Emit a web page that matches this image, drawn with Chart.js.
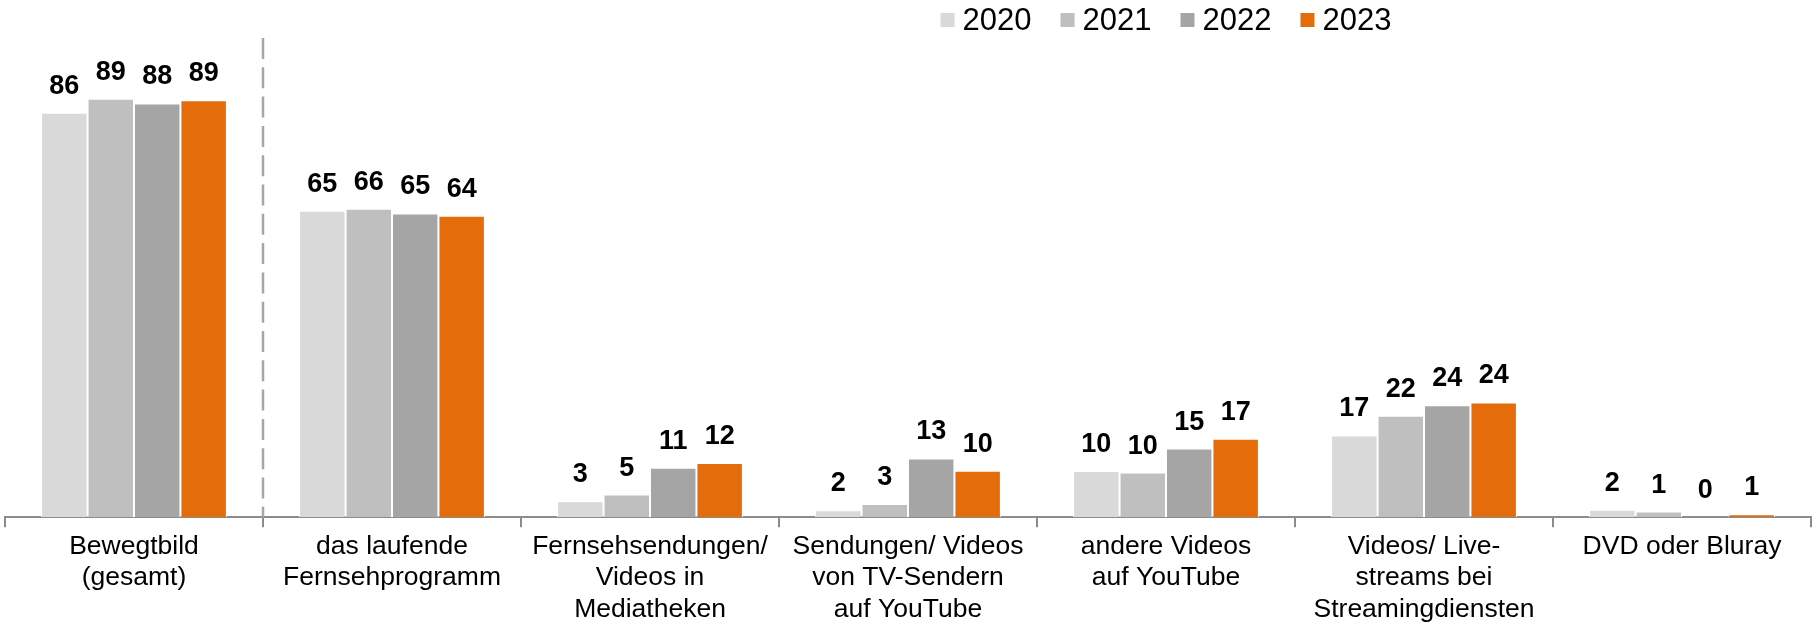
<!DOCTYPE html>
<html lang="de">
<head>
<meta charset="utf-8">
<title>Bewegtbildnutzung 2020–2023</title>
<script src="https://cdn.jsdelivr.net/npm/chart.js@4.4.1/dist/chart.umd.min.js"></script>
<style>
    html, body { margin: 0; padding: 0; background: #fff; }
    .chart-wrap { position: relative; width: 1816px; height: 624px; }
</style>
</head>
<body>
<div class="chart-wrap"><canvas id="usage-chart"></canvas></div>
<script>
// ─── data ───────────────────────────────────────────────────────────────

const categories = [
    ['Bewegtbild', '(gesamt)'],
    ['das laufende', 'Fernsehprogramm'],
    ['Fernsehsendungen/', 'Videos in', 'Mediatheken'],
    ['Sendungen/ Videos', 'von TV-Sendern', 'auf YouTube'],
    ['andere Videos', 'auf YouTube'],
    ['Videos/ Live-', 'streams bei', 'Streamingdiensten'],
    ['DVD oder Bluray'],
];

const years = ['2020', '2021', '2022', '2023'];

// the printed labels are these values rounded
const values2020 = [86.0, 65.2, 3.4, 1.5, 9.8, 17.4, 1.6];
const values2021 = [89.0, 65.6, 4.8, 2.8, 9.5, 21.6, 1.2];
const values2022 = [88.0, 64.6, 10.5, 12.5, 14.6, 23.8, 0];
const values2023 = [88.7, 64.1, 11.5, 9.9, 16.7, 24.4, 0.6];

const seriesValues = [values2020, values2021, values2022, values2023];
const yearColors = ['#d9d9d9', '#bfbfbf', '#a5a5a5', '#e46c0a'];

const FONT = '"Liberation Sans", Arial, Helvetica, sans-serif';
Chart.defaults.font.family = FONT;

// ─── plugins ────────────────────────────────────────────────────────────

// bold value above every bar
const valueLabels = {
    id: 'valueLabels',
    afterDatasetsDraw(chart, args, opts) {
        const {ctx} = chart;
        ctx.save();
        ctx.font = `bold ${opts.size}px ${FONT}`;
        ctx.fillStyle = opts.color;
        ctx.textAlign = 'center';
        ctx.textBaseline = 'alphabetic';
        chart.data.datasets.forEach((ds, i) => {
            chart.getDatasetMeta(i).data.forEach((bar, j) => {
                ctx.fillText(String(Math.round(ds.data[j])), bar.x, bar.y - opts.offset);
            });
        });
        ctx.restore();
    }
};

// dashed line between "Bewegtbild (gesamt)" and the rest
const separatorLine = {
    id: 'separatorLine',
    afterDatasetsDraw(chart, args, opts) {
        const {ctx, chartArea} = chart;
        const x = chart.scales.x;
        const px = (x.getPixelForValue(opts.after) + x.getPixelForValue(opts.after + 1)) / 2;
        ctx.save();
        ctx.strokeStyle = opts.color;
        ctx.lineWidth = opts.width;
        ctx.setLineDash(opts.dash);
        ctx.beginPath();
        ctx.moveTo(px, chartArea.top - opts.overshoot);
        ctx.lineTo(px, chartArea.bottom);
        ctx.stroke();
        ctx.restore();
    }
};

// small square + year, laid out in one row
const yearLegend = {
    id: 'yearLegend',
    afterDraw(chart, args, opts) {
        const {ctx} = chart;
        ctx.save();
        ctx.font = `${opts.size}px ${FONT}`;
        ctx.textBaseline = 'alphabetic';
        ctx.textAlign = 'left';
        const items = chart.data.datasets.map(ds => ({
            text: ds.label,
            color: ds.backgroundColor,
            w: ctx.measureText(ds.label).width,
        }));
        const total = items.reduce((s, it) => s + opts.box + opts.boxGap + it.w, 0)
            + opts.itemGap * (items.length - 1);
        let x = opts.centerX - total / 2;
        items.forEach(it => {
            ctx.fillStyle = it.color;
            ctx.fillRect(x, opts.boxTop, opts.box, opts.box);
            x += opts.box + opts.boxGap;
            ctx.fillStyle = '#000';
            ctx.fillText(it.text, x, opts.baseline);
            x += it.w + opts.itemGap;
        });
        ctx.restore();
    }
};

// ─── chart ──────────────────────────────────────────────────────────────

new Chart(document.getElementById('usage-chart'), {
    type: 'bar',
    data: {
        labels: categories,
        datasets: years.map((year, i) => ({
            label: year,
            data: seriesValues[i],
            backgroundColor: yearColors[i],
            borderColor: '#ffffff',
            borderWidth: 1,
            categoryPercentage: 0.72,
            barPercentage: 1,
        })),
    },
    options: {
        responsive: true,
        maintainAspectRatio: false,
        animation: false,
        layout: {padding: {top: 47, left: 5, right: 5, bottom: -5}},
        plugins: {
            legend: {display: false},
            tooltip: {enabled: false},
            valueLabels: {size: 27, color: '#000', offset: 19},
            separatorLine: {after: 0, color: '#a6a6a6', width: 2.5, dash: [21, 8.3], overshoot: 9},
            yearLegend: {size: 31, centerX: 1166, boxTop: 13, box: 14, boxGap: 8, itemGap: 29, baseline: 29.5},
        },
        scales: {
            x: {
                z: 1,
                grid: {
                    offset: true,
                    drawOnChartArea: false,
                    drawTicks: true,
                    tickLength: 10,
                    color: '#8c8c8c',
                    lineWidth: 2,
                },
                border: {display: true, color: '#8c8c8c', width: 2},
                ticks: {
                    color: '#000',
                    font: {size: 26.5, lineHeight: 1.18},
                    padding: 4,
                    autoSkip: false,
                    maxRotation: 0,
                    minRotation: 0,
                },
            },
            y: {display: false, min: 0, max: 100},
        },
    },
    plugins: [valueLabels, separatorLine, yearLegend],
});
</script>
</body>
</html>
